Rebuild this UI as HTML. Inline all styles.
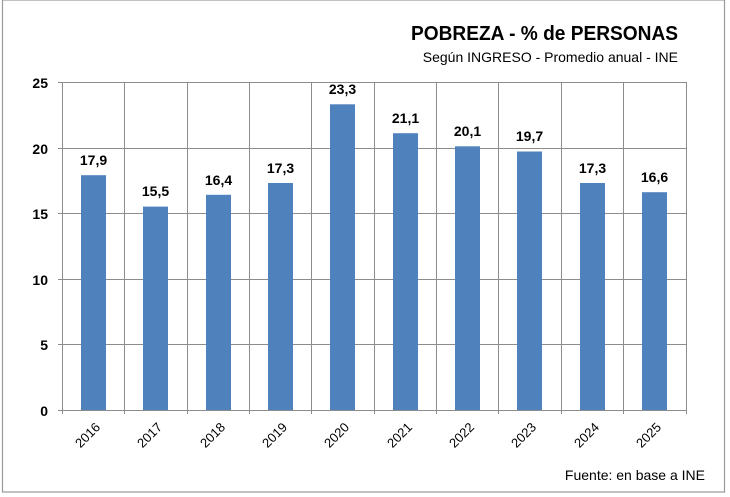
<!DOCTYPE html>
<html><head><meta charset="utf-8"><style>body{margin:0;background:#fff}svg{display:block}</style></head><body>
<svg width="730" height="497" xmlns="http://www.w3.org/2000/svg" font-family="Liberation Sans, Arial, sans-serif">
<rect x="0" y="0" width="730" height="497" fill="#fff"/>
<rect x="2.5" y="0" width="722" height="492" fill="none" stroke="#9a9a9a" stroke-width="1.2"/>
<text x="411" y="40" textLength="267" lengthAdjust="spacingAndGlyphs" font-size="20" font-weight="bold" fill="#000">POBREZA - % de PERSONAS</text>
<text x="678" y="62" text-anchor="end" font-size="14" fill="#000">Según INGRESO - Promedio anual - INE</text>
<g stroke="#8c8c8c" stroke-width="1">
<line x1="58" y1="82.5" x2="686" y2="82.5"/>
<line x1="58" y1="148.5" x2="686" y2="148.5"/>
<line x1="58" y1="213.5" x2="686" y2="213.5"/>
<line x1="58" y1="279.5" x2="686" y2="279.5"/>
<line x1="58" y1="344.5" x2="686" y2="344.5"/>
<line x1="58" y1="410.5" x2="686" y2="410.5"/>
<line x1="62.5" y1="82" x2="62.5" y2="414"/>
<line x1="124.5" y1="82" x2="124.5" y2="414"/>
<line x1="187.5" y1="82" x2="187.5" y2="414"/>
<line x1="249.5" y1="82" x2="249.5" y2="414"/>
<line x1="311.5" y1="82" x2="311.5" y2="414"/>
<line x1="374.5" y1="82" x2="374.5" y2="414"/>
<line x1="436.5" y1="82" x2="436.5" y2="414"/>
<line x1="498.5" y1="82" x2="498.5" y2="414"/>
<line x1="561.5" y1="82" x2="561.5" y2="414"/>
<line x1="623.5" y1="82" x2="623.5" y2="414"/>
<line x1="686.5" y1="82" x2="686.5" y2="414"/>
</g>
<g font-size="14" font-weight="bold" text-anchor="end" fill="#000">
<text x="48" y="88">25</text><text x="48" y="154">20</text><text x="48" y="219">15</text>
<text x="48" y="285">10</text><text x="48" y="350">5</text><text x="48" y="416">0</text>
</g>
<g fill="#4f81bd">
<rect x="81" y="175.2" width="25" height="234.8"/>
<rect x="143" y="206.6" width="25" height="203.4"/>
<rect x="206" y="194.8" width="25" height="215.2"/>
<rect x="268" y="183" width="25" height="227"/>
<rect x="330" y="104.3" width="25" height="305.7"/>
<rect x="393" y="133.2" width="25" height="276.8"/>
<rect x="455" y="146.3" width="25" height="263.7"/>
<rect x="517" y="151.5" width="25" height="258.5"/>
<rect x="580" y="183" width="25" height="227"/>
<rect x="642" y="192.2" width="25" height="217.8"/>
</g>
<g font-size="14" font-weight="bold" text-anchor="middle" fill="#000">
<text x="93.5" y="165">17,9</text><text x="155.5" y="196">15,5</text><text x="218.5" y="185">16,4</text>
<text x="280.5" y="173">17,3</text><text x="342.5" y="94">23,3</text><text x="405.5" y="123">21,1</text>
<text x="467.5" y="136">20,1</text><text x="529.5" y="141">19,7</text><text x="592.5" y="173">17,3</text>
<text x="654.5" y="182">16,6</text>
</g>
<g font-size="13" fill="#000" text-anchor="end">
<text transform="translate(101,428) rotate(-45)">2016</text>
<text transform="translate(163,428) rotate(-45)">2017</text>
<text transform="translate(226,428) rotate(-45)">2018</text>
<text transform="translate(288,428) rotate(-45)">2019</text>
<text transform="translate(350,428) rotate(-45)">2020</text>
<text transform="translate(413,428) rotate(-45)">2021</text>
<text transform="translate(475,428) rotate(-45)">2022</text>
<text transform="translate(537,428) rotate(-45)">2023</text>
<text transform="translate(600,428) rotate(-45)">2024</text>
<text transform="translate(662,428) rotate(-45)">2025</text>
</g>
<text x="705" y="480" text-anchor="end" font-size="14" fill="#000">Fuente: en base a INE</text>
</svg>
</body></html>
